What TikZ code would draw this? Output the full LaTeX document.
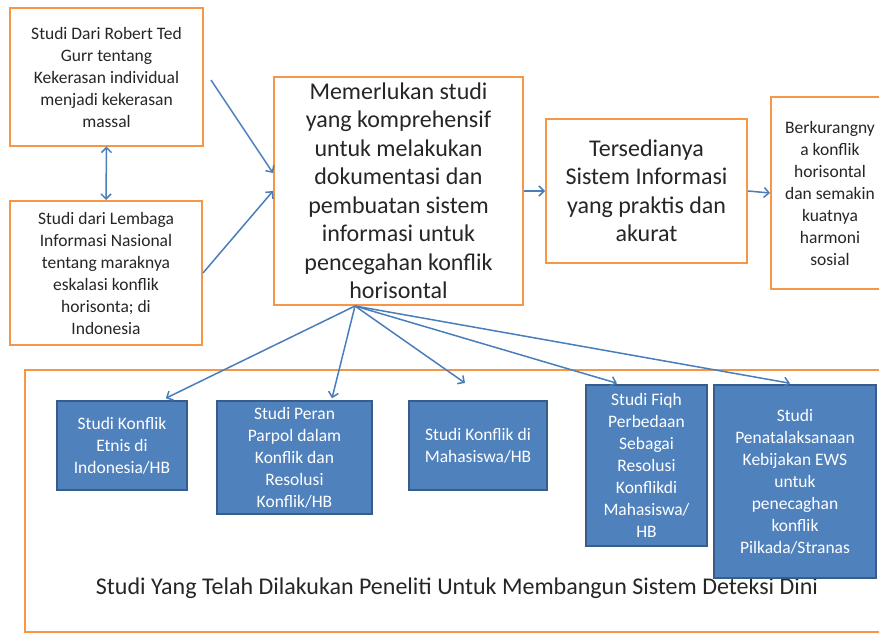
\documentclass[tikz,border=0pt]{standalone}
\usepackage{fontspec}
\setmainfont{Carlito}
\usetikzlibrary{arrows.meta}
\usetikzlibrary{calc}
\definecolor{oranye}{HTML}{F79646}
\definecolor{birufill}{HTML}{4F81BD}
\definecolor{birugaris}{HTML}{385D8A}
\definecolor{panahbiru}{HTML}{4A7EBB}
\newcommand\hurufkecil{\fontsize{17.5}{22}\selectfont}
\newcommand\hurufbesar{\fontsize{24}{28.5}\selectfont}
\begin{document}
\begin{tikzpicture}[x=1pt,y=-1pt,
    kotak/.style={draw=oranye, line width=2pt, fill=white, inner sep=0pt, align=center, text=black!85},
    biru/.style={draw=birugaris, line width=1.5pt, fill=birufill, inner sep=0pt, align=center, text=white, font=\hurufkecil},
    panah/.style={draw=panahbiru, line width=1.5pt, -{Straight Barb[length=5pt,width=10pt]}}]
          \clip (0,0) rectangle (879,634);
          \node[kotak, minimum width=193, minimum height=137, font=\hurufkecil] (gurr) at (106.5, 77) {Studi Dari Robert Ted\\Gurr tentang\\Kekerasan individual\\menjadi kekerasan\\massal};
          \node[kotak, minimum width=192, minimum height=144, font=\hurufkecil] (lembaga) at (106, 273) {Studi dari Lembaga\\Informasi Nasional\\tentang maraknya\\eskalasi konflik\\horisonta; di\\Indonesia};
          \node[kotak, minimum width=249, minimum height=228, font=\hurufbesar] (perlu) at (398.5, 191) {Memerlukan studi\\yang komprehensif\\untuk melakukan\\dokumentasi dan\\pembuatan sistem\\informasi untuk\\pencegahan konflik\\horisontal};
          \node[kotak, minimum width=201, minimum height=144, font=\hurufbesar] (sistem) at (646.5, 191) {Tersedianya\\Sistem Informasi\\yang praktis dan\\akurat};
          \node[kotak, minimum width=118, minimum height=192, font=\hurufkecil] (harmoni) at (830, 193) {Berkurangny\\a konflik\\horisontal\\dan semakin\\kuatnya\\harmoni\\sosial};
          %
          \node[kotak, minimum width=870, minimum height=262] (wadah) at (460, 501) {};
          \node[font=\hurufbesar, text=black!85] (judul) at (457, 588) {Studi Yang Telah Dilakukan Peneliti Untuk Membangun Sistem Deteksi Dini};
          %
          \node[biru, minimum width=130, minimum height=89] (etnis) at (122, 445.5) {Studi Konflik\\Etnis di\\Indonesia/HB};
          \node[biru, minimum width=155, minimum height=113] (parpol) at (294.5, 457.5) {Studi Peran\\Parpol dalam\\Konflik dan\\Resolusi\\Konflik/HB};
          \node[biru, minimum width=138, minimum height=89] (mahasiswa) at (478, 445.5) {Studi Konflik di\\Mahasiswa/HB};
          \node[biru, minimum width=121, minimum height=161] (fiqh) at (646.5, 465.5) {Studi Fiqh\\Perbedaan\\Sebagai\\Resolusi\\Konflikdi\\Mahasiswa/\\HB};
          \node[biru, minimum width=162, minimum height=193] (ews) at (795, 481.5) {Studi\\Penatalaksanaan\\Kebijakan EWS\\untuk\\penecaghan\\konflik\\Pilkada/Stranas};
          %
          \coordinate (pangkal) at (355, 306);
          \coordinate (ujung) at (465, 383);
          \draw[panah] ($(gurr.east)+(7,3)$) -- ($(perlu.west)+(0,-18)$);
          \draw[panah] (lembaga.east) -- (perlu.west);
          \draw[panah, {Straight Barb[length=5pt,width=10pt]}-{Straight Barb[length=5pt,width=10pt]}] (gurr.south) -- (lembaga.north);
          \draw[panah] (perlu.east) -- (sistem.west);
          \draw[panah] (sistem.east) -- (harmoni.west);
          \draw[panah] (pangkal) -- ($(etnis.north east)+(-22,-2)$);
          \draw[panah] (pangkal) -- ($(parpol.north)+(37.5,-2)$);
          \draw[panah] (pangkal) -- (ujung);
          \draw[panah] (pangkal) -- ($(fiqh.north)+(-29.5,-1)$);
          \draw[panah] (pangkal) -- ($(ews.north)+(-5,-1)$);
        \end{tikzpicture}
\end{document}
